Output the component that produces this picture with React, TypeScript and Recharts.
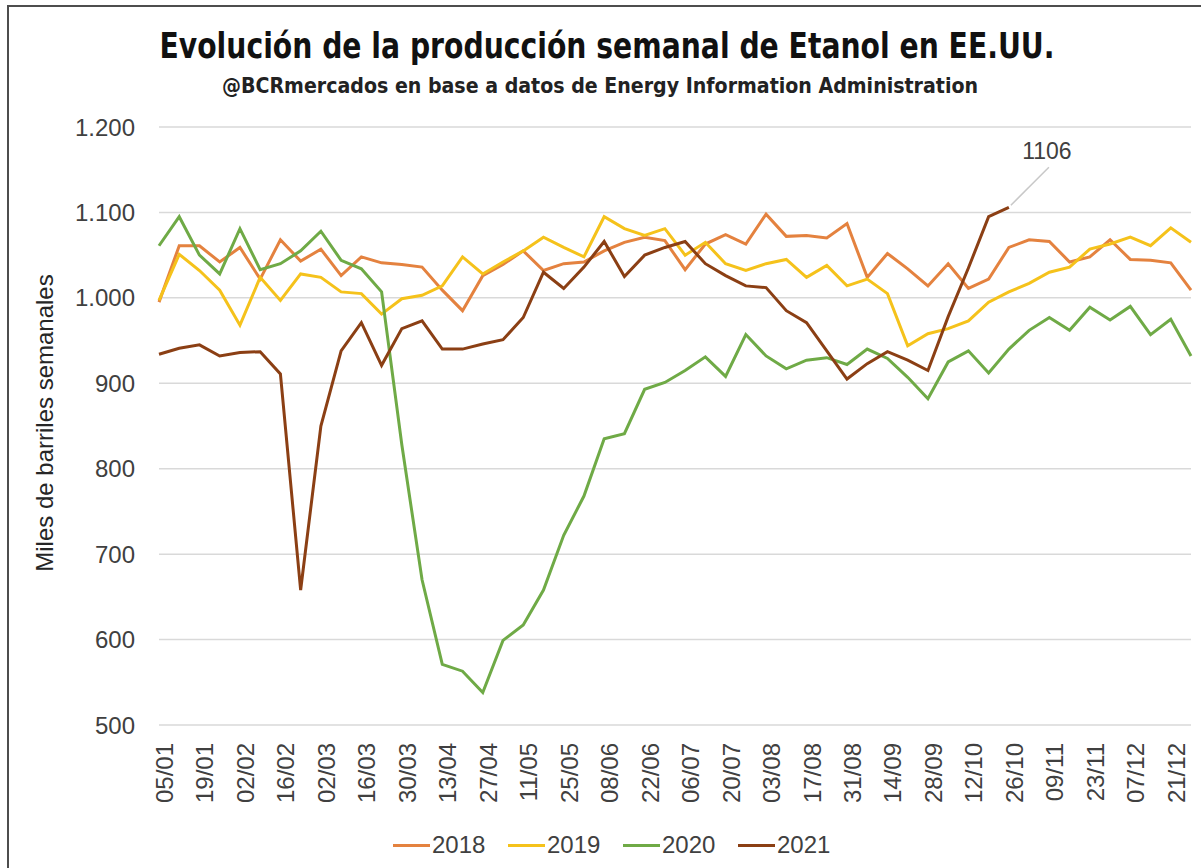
import { LineChart, Line, XAxis, YAxis, CartesianGrid, LabelList } from 'recharts';

const weeks = [
  '05/01', '12/01', '19/01', '26/01', '02/02', '09/02', '16/02', '23/02', '02/03', '09/03',
  '16/03', '23/03', '30/03', '06/04', '13/04', '20/04', '27/04', '04/05', '11/05', '18/05',
  '25/05', '01/06', '08/06', '15/06', '22/06', '29/06', '06/07', '13/07', '20/07', '27/07',
  '03/08', '10/08', '17/08', '24/08', '31/08', '07/09', '14/09', '21/09', '28/09', '05/10',
  '12/10', '19/10', '26/10', '02/11', '09/11', '16/11', '23/11', '30/11', '07/12', '14/12',
  '21/12', '28/12',
];

const s2018 = [
  995, 1061, 1061, 1042, 1059, 1022, 1068, 1043, 1057, 1026,
  1048, 1041, 1039, 1036, 1009, 985, 1026, 1039, 1055, 1032,
  1040, 1042, 1055, 1065, 1071, 1067, 1033, 1063, 1074, 1063,
  1098, 1072, 1073, 1070, 1087, 1024, 1052, 1034, 1014, 1040,
  1011, 1022, 1059, 1068, 1066, 1042, 1048, 1068, 1045, 1044,
  1041, 1009,
];

const s2019 = [
  997, 1051, 1032, 1009, 968, 1024, 997, 1028, 1024, 1007,
  1005, 981, 999, 1003, 1014, 1048, 1028, 1042, 1055, 1071,
  1059, 1048, 1095, 1081, 1073, 1081, 1050, 1065, 1040, 1032,
  1040, 1045, 1024, 1038, 1014, 1022, 1005, 944, 958, 964,
  973, 995, 1007, 1017, 1030, 1036, 1057, 1063, 1071, 1061,
  1082, 1065,
];

const s2020 = [
  1061, 1095, 1050, 1028, 1081, 1033, 1040, 1055, 1078, 1044,
  1034, 1007, 828, 670, 571, 563, 538, 599, 617, 658,
  722, 768, 835, 841, 893, 901, 915, 931, 908, 957,
  932, 917, 927, 930, 922, 940, 929, 907, 882, 925,
  938, 912, 940, 962, 977, 962, 989, 974, 990, 957,
  975, 932,
];

const s2021 = [
  934, 941, 945, 932, 936, 937, 911, 658, 850, 938,
  971, 921, 964, 973, 940, 940, 946, 951, 977, 1030,
  1011, 1036, 1066, 1025, 1050, 1059, 1066, 1040, 1026, 1014,
  1012, 985, 971, 938, 905, 923, 937, 927, 915, 978,
  1035, 1095, 1106,
];

const yTicks = [500, 600, 700, 800, 900, 1000, 1100, 1200];

const series = [
  { key: 'y2018', name: '2018', color: '#E4823F' },
  { key: 'y2019', name: '2019', color: '#F5C21B' },
  { key: 'y2020', name: '2020', color: '#6FAA46' },
  { key: 'y2021', name: '2021', color: '#8B3F14' },
];

const data = weeks.map((week, i) => ({
  week,
  y2018: s2018[i] ?? null,
  y2019: s2019[i] ?? null,
  y2020: s2020[i] ?? null,
  y2021: s2021[i] ?? null,
}));

const lastIdx2021 = s2021.length - 1;
const txt = '#404040';
const font = '"Liberation Sans", Arial, sans-serif';

const fmt = (v: number) =>
  v >= 1000 ? `${Math.floor(v / 1000)}.${String(v % 1000).padStart(3, '0')}` : String(v);

const WeekTick = ({ x, payload }: any) => {
  const tx = x + 14;
  const ty = 743;
  return (
    <text x={tx} y={ty} transform={`rotate(-90, ${tx}, ${ty})`} textAnchor="end"
      fill={txt} fontSize={24} fontFamily={font}>
      {payload.value}
    </text>
  );
};

const LastLabel = (props: any) => {
  const { x, y, value, index } = props;
  if (index !== lastIdx2021 || value == null) return null;
  return (
    <g>
      <line x1={x + 2} y1={y - 2} x2={x + 40} y2={y - 40} stroke="#c8c8c8" strokeWidth={1.5} />
      <text x={x + 38} y={y - 48} textAnchor="middle" fill={txt} fontSize={23} fontFamily={font}>
        {value}
      </text>
    </g>
  );
};

const YTitle = () => (
  <text x={53} y={423} transform="rotate(-90, 53, 423)" textAnchor="middle"
    fill="#262626" fontSize={24} fontFamily={font}>
    Miles de barriles semanales
  </text>
);

export default function App() {
  return (
    <div style={{ position: 'absolute', left: 0, top: 0, width: 1201, height: 868, background: '#fff', overflow: 'hidden' }}>
      <div style={{
        position: 'absolute', left: 7, top: 5, width: 1193, height: 900,
        borderLeft: '2px solid #4d4d4d', borderTop: '2px solid #4d4d4d', borderRight: '1px solid #d0d0d0',
      }} />
      <svg width={1201} height={110} style={{ position: 'absolute', left: 0, top: 0 }}>
        <text x={607} y={58} textAnchor="middle" fontSize={35} fontWeight="bold"
          fontFamily='"Liberation Sans Narrow", "DejaVu Sans Condensed", "Liberation Sans", sans-serif'
          textLength={895} lengthAdjust="spacingAndGlyphs" fill="#111">
          Evolución de la producción semanal de Etanol en EE.UU.
        </text>
        <text x={600} y={93} textAnchor="middle" fontSize={21} fontWeight="bold"
          fontFamily='"Liberation Sans Narrow", "DejaVu Sans Condensed", "Liberation Sans", sans-serif'
          textLength={756} lengthAdjust="spacingAndGlyphs" fill="#222">
          @BCRmercados en base a datos de Energy Information Administration
        </text>
      </svg>
      <div style={{ position: 'absolute', left: 0, top: 0 }}>
        <LineChart width={1201} height={868} data={data} margin={{ top: 127, right: 10, bottom: 23, left: 0 }}>
          <CartesianGrid vertical={false} stroke="#d9d9d9" strokeWidth={1.5} />
          <XAxis dataKey="week" interval={1} height={120} axisLine={false} tickLine={false} tick={<WeekTick />} />
          <YAxis width={159} domain={[500, 1200]} ticks={yTicks} tickFormatter={fmt}
            axisLine={false} tickLine={false} tickSize={8} tickMargin={16}
            tick={{ fill: txt, fontSize: 24, fontFamily: font }}
            label={<YTitle />} />
          {series.map((s) => (
            <Line key={s.key} type="linear" dataKey={s.key} name={s.name} stroke={s.color}
              strokeWidth={3} dot={false} isAnimationActive={false} connectNulls={false}>
              {s.key === 'y2021' && <LabelList dataKey={s.key} content={<LastLabel />} />}
            </Line>
          ))}
        </LineChart>
      </div>
      {series.map((s, i) => (
        <div key={s.key} style={{ position: 'absolute', left: 393 + i * 115, top: 830, display: 'flex', alignItems: 'center', height: 30 }}>
          <div style={{ width: 37, height: 3, background: s.color }} />
          <span style={{ marginLeft: 2, fontSize: 24, fontFamily: font, color: txt }}>{s.name}</span>
        </div>
      ))}
    </div>
  );
}
